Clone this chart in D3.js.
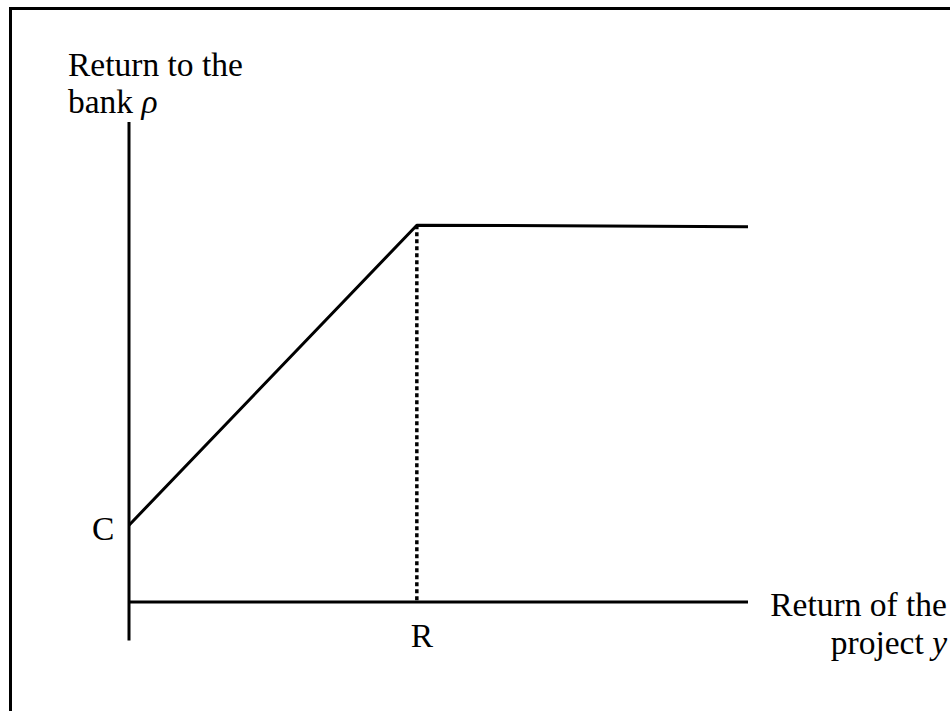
<!DOCTYPE html>
<html>
<head>
<meta charset="utf-8">
<script src="https://cdn.jsdelivr.net/npm/d3@7"></script>
<style>
  body { margin: 0; background: #fff; }
  svg text { font-family: "Times New Roman", "Liberation Serif", serif; font-size: 33.5px; fill: #000; }
</style>
</head>
<body>
<div id="chart"></div>
<script>
// debt contract payoff: bank gets the project return up to R, then R flat
const payoffX = [0, 46.5, 100];
const payoffY = [16, 78.5, 78.2];
const kneeX = 46.5; // R
const kneeY = 78.5;
const interceptY = 16; // C
const xTickLabel = "R";
const yTickLabel = "C";
const yTitle = ["Return to the", "bank "];
const xTitle = ["Return of the", "project "];

const width = 950,
  height = 711;

const svg = d3
  .select("#chart")
  .append("svg")
  .attr("width", width)
  .attr("height", height);

// frame round the whole figure (right and bottom run off the page)
svg
  .append("rect")
  .attr("x", 10.5)
  .attr("y", 8.5)
  .attr("width", 960)
  .attr("height", 720)
  .attr("fill", "none")
  .attr("stroke", "#000")
  .attr("stroke-width", 3);

// scales
const x = d3.scaleLinear().domain([0, 100]).range([129, 748]);
const y = d3.scaleLinear().domain([0, 100]).range([602, 122]);

// axes (plain lines, no ticks)
svg
  .append("line")
  .attr("x1", x(0))
  .attr("x2", x(0))
  .attr("y1", y(100))
  .attr("y2", y(-8))
  .attr("stroke", "#000")
  .attr("stroke-width", 3);

svg
  .append("line")
  .attr("x1", x(0))
  .attr("x2", x(100))
  .attr("y1", y(0))
  .attr("y2", y(0))
  .attr("stroke", "#000")
  .attr("stroke-width", 3);

// dotted drop line at R
svg
  .append("line")
  .attr("x1", x(kneeX))
  .attr("x2", x(kneeX))
  .attr("y1", y(kneeY))
  .attr("y2", y(0))
  .attr("stroke", "#000")
  .attr("stroke-width", 3.5)
  .attr("stroke-dasharray", "4,3");

// payoff line
const points = payoffX.map((d, i) => ({ x: d, y: payoffY[i] }));
svg
  .append("path")
  .datum(points)
  .attr("fill", "none")
  .attr("stroke", "#000")
  .attr("stroke-width", 3)
  .attr("stroke-linejoin", "round")
  .attr(
    "d",
    d3
      .line()
      .x((d) => x(d.x))
      .y((d) => y(d.y))
  );

// tick labels
svg
  .append("text")
  .attr("x", x(kneeX) - 6)
  .attr("y", y(0) + 45)
  .text(xTickLabel);

svg
  .append("text")
  .attr("x", x(0) - 37)
  .attr("y", y(interceptY) + 15)
  .text(yTickLabel);

// y title
const yt = svg.append("text").attr("x", 68).attr("y", 76);
yt.append("tspan").text(yTitle[0]);
yt.append("tspan").attr("x", 68).attr("dy", 37).text(yTitle[1]);
yt.append("tspan").attr("font-style", "italic").text("ρ");

// x title, right aligned
const xt = svg
  .append("text")
  .attr("x", 947)
  .attr("y", 616)
  .attr("text-anchor", "end");
xt.append("tspan").text(xTitle[0]);
xt.append("tspan").attr("x", 947).attr("dy", 38).text(xTitle[1]);
xt.append("tspan").attr("font-style", "italic").text("y");
</script>
</body>
</html>
